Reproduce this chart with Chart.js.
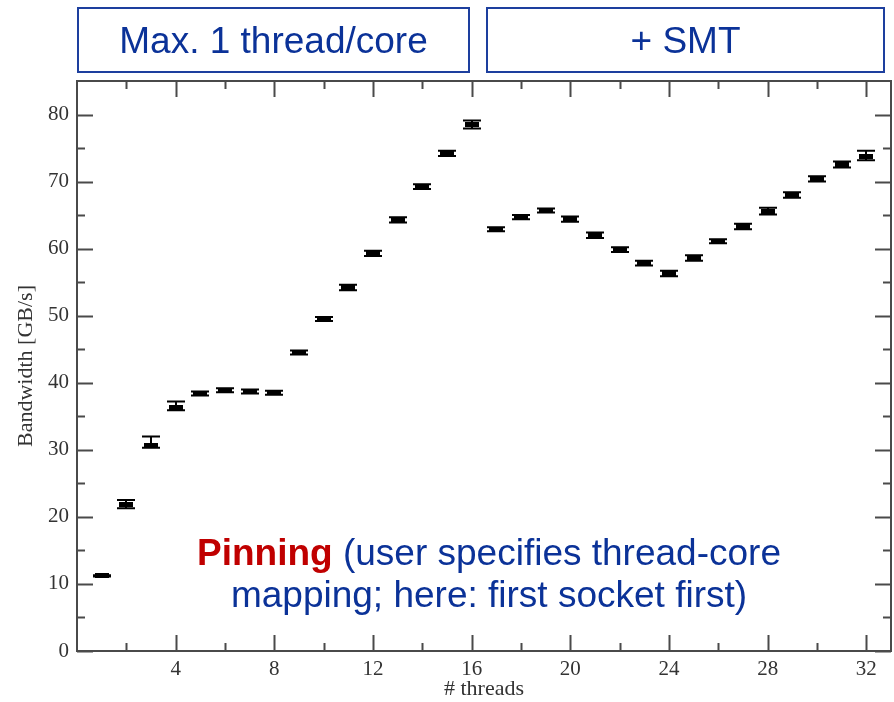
<!DOCTYPE html>
<html>
<head>
<meta charset="utf-8">
<title>Bandwidth vs threads</title>
<style>
  html, body { margin: 0; padding: 0; background: #ffffff; }
  #wrap { width: 894px; height: 702px; position: relative; }
</style>
<script src="https://cdn.jsdelivr.net/npm/chart.js@4.4.1/dist/chart.umd.min.js"></script>
</head>
<body>
<div id="wrap"><canvas id="c" width="894" height="702"></canvas></div>
<script>
// Measured bandwidth per thread count, with the min/max of the repeated runs
const threads = [1, 2, 3, 4, 5, 6, 7, 8, 9, 10, 11, 12, 13, 14, 15, 16,
                 17, 18, 19, 20, 21, 22, 23, 24, 25, 26, 27, 28, 29, 30, 31, 32];
const bandwidth = [11.2, 21.8, 30.7, 36.3, 38.4, 38.9, 38.7, 38.5, 44.5, 49.5, 54.2, 59.3, 64.3, 69.2, 74.2, 78.5,
                   62.9, 64.7, 65.7, 64.4, 62.0, 59.8, 57.8, 56.3, 58.6, 61.1, 63.3, 65.6, 68.0, 70.4, 72.6, 73.8];
const bandwidthLow = [11.1, 21.3, 30.3, 35.9, 38.1, 38.6, 38.4, 38.2, 44.2, 49.2, 53.8, 58.9, 63.9, 68.9, 73.8, 77.9,
                      62.6, 64.4, 65.4, 64.0, 61.6, 59.5, 57.5, 55.9, 58.2, 60.8, 62.9, 65.1, 67.6, 70.0, 72.1, 73.2];
const bandwidthHigh = [11.3, 22.5, 32.0, 37.2, 38.7, 39.2, 39.0, 38.8, 44.8, 49.8, 54.6, 59.7, 64.7, 69.6, 74.6, 79.1,
                       63.2, 65.0, 66.0, 64.8, 62.4, 60.2, 58.2, 56.7, 59.0, 61.4, 63.7, 66.1, 68.4, 70.8, 73.0, 74.6];

const xTickValues = [2, 4, 6, 8, 10, 12, 14, 16, 18, 20, 22, 24, 26, 28, 30, 32];
const yTickValues = [0, 5, 10, 15, 20, 25, 30, 35, 40, 45, 50, 55, 60, 65, 70, 75, 80];

const panelLabels = ['Max. 1 thread/core', '+ SMT'];
const noteStrong = 'Pinning';
const noteRest = ' (user specifies thread-core';
const noteSecond = 'mapping; here: first socket first)';

const AXIS_COLOR = '#4a4a4a';
const BLUE_TEXT = '#0b3298';
const BLUE_BORDER = '#1d3f9e';
const RED_TEXT = '#c00000';

// small filled bar used as the point marker
const marker = document.createElement('canvas');
marker.width = 14; marker.height = 5;
(function () {
  const m = marker.getContext('2d');
  m.fillStyle = '#000';
  m.fillRect(0, 0, 14, 5);
})();

// frame around the plot with inward tick marks on all four sides
const frameTicks = {
  id: 'frameTicks',
  beforeDatasetsDraw(chart) {
    const { ctx, chartArea: a, scales: { x, y } } = chart;
    ctx.save();
    ctx.strokeStyle = AXIS_COLOR;
    ctx.lineWidth = 2;
    ctx.strokeRect(a.left, a.top, a.right - a.left, a.bottom - a.top);
    ctx.beginPath();
    x.ticks.forEach(t => {
      const px = Math.round(x.getPixelForValue(t.value)) + 0.5;
      const len = t.value % 4 === 0 ? 16 : 8;
      ctx.moveTo(px, a.bottom); ctx.lineTo(px, a.bottom - len);
      ctx.moveTo(px, a.top); ctx.lineTo(px, a.top + len);
    });
    y.ticks.forEach(t => {
      const py = Math.round(y.getPixelForValue(t.value)) + 0.5;
      const len = t.value % 10 === 0 ? 16 : 8;
      ctx.moveTo(a.left, py); ctx.lineTo(a.left + len, py);
      ctx.moveTo(a.right, py); ctx.lineTo(a.right - len, py);
    });
    ctx.stroke();
    ctx.restore();
  }
};

// min/max whiskers with caps for every measurement
const errorBars = {
  id: 'errorBars',
  beforeDatasetsDraw(chart) {
    const { ctx, scales: { x, y } } = chart;
    ctx.save();
    ctx.strokeStyle = '#000';
    ctx.lineWidth = 2;
    ctx.beginPath();
    threads.forEach((t, i) => {
      const px = Math.round(x.getPixelForValue(t));
      const lo = y.getPixelForValue(bandwidthLow[i]);
      const hi = y.getPixelForValue(bandwidthHigh[i]);
      ctx.moveTo(px, lo); ctx.lineTo(px, hi);
      ctx.moveTo(px - 9, lo); ctx.lineTo(px + 9, lo);
      ctx.moveTo(px - 9, hi); ctx.lineTo(px + 9, hi);
    });
    ctx.stroke();
    ctx.restore();
  }
};

// header panels and the pinning note
const annotations = {
  id: 'annotations',
  afterDraw(chart) {
    const ctx = chart.ctx;
    ctx.save();
    const boxes = [[78, 8, 391, 64], [487, 8, 397, 64]];
    ctx.lineWidth = 2;
    ctx.strokeStyle = BLUE_BORDER;
    ctx.fillStyle = BLUE_TEXT;
    ctx.font = '37px "Liberation Sans", Arial, sans-serif';
    ctx.textBaseline = 'alphabetic';
    ctx.textAlign = 'center';
    boxes.forEach((b, i) => {
      ctx.strokeRect(b[0], b[1], b[2], b[3]);
      ctx.fillText(panelLabels[i], b[0] + b[2] / 2, 53);
    });

    const cx = 489;
    const boldFont = 'bold 37px "Liberation Sans", Arial, sans-serif';
    const normFont = '37px "Liberation Sans", Arial, sans-serif';
    ctx.textAlign = 'left';
    ctx.font = boldFont;
    const w1 = ctx.measureText(noteStrong).width;
    ctx.font = normFont;
    const w2 = ctx.measureText(noteRest).width;
    const start = cx - (w1 + w2) / 2;
    ctx.font = boldFont;
    ctx.fillStyle = RED_TEXT;
    ctx.fillText(noteStrong, start, 565);
    ctx.font = normFont;
    ctx.fillStyle = BLUE_TEXT;
    ctx.fillText(noteRest, start + w1, 565);
    ctx.textAlign = 'center';
    ctx.fillText(noteSecond, cx, 607);
    ctx.restore();
  }
};

const serif = '"Liberation Serif", "Times New Roman", serif';

new Chart(document.getElementById('c'), {
  type: 'scatter',
  data: {
    datasets: [{
      data: threads.map((t, i) => ({ x: t, y: bandwidth[i] })),
      pointStyle: marker,
      pointRadius: 7,
      pointHoverRadius: 7,
      showLine: false
    }]
  },
  options: {
    responsive: false,
    animation: false,
    devicePixelRatio: 1,
    layout: { autoPadding: false, padding: { top: 81, right: 3, left: 0, bottom: 0 } },
    plugins: { legend: { display: false }, tooltip: { enabled: false } },
    scales: {
      x: {
        type: 'linear',
        min: 0,
        max: 33,
        afterBuildTicks(scale) { scale.ticks = xTickValues.map(v => ({ value: v })); },
        afterFit(scale) {
          scale.height = 51;
          scale.paddingLeft = 0;
          scale.paddingRight = 0;
        },
        grid: { display: false, drawTicks: false },
        border: { display: false },
        ticks: {
          autoSkip: false,
          maxRotation: 0,
          padding: 6,
          color: '#333333',
          font: { family: serif, size: 21 },
          callback: v => (v % 4 === 0 ? String(v) : '')
        },
        title: {
          display: true,
          text: '# threads',
          color: '#333333',
          font: { family: serif, size: 22 },
          padding: { top: 0, bottom: 0 }
        }
      },
      y: {
        type: 'linear',
        min: 0,
        max: 85,
        afterBuildTicks(scale) { scale.ticks = yTickValues.map(v => ({ value: v })); },
        afterFit(scale) {
          scale.width = 77;
          scale.paddingTop = 0;
          scale.paddingBottom = 0;
        },
        grid: { display: false, drawTicks: false },
        border: { display: false },
        ticks: {
          autoSkip: false,
          padding: 8,
          color: '#333333',
          font: { family: serif, size: 21 },
          callback: v => (v % 10 === 0 ? String(v) : '')
        },
        title: {
          display: true,
          text: 'Bandwidth [GB/s]',
          color: '#333333',
          font: { family: serif, size: 22 },
          padding: { top: 13, bottom: 0 }
        }
      }
    }
  },
  plugins: [frameTicks, errorBars, annotations]
});
</script>
</body>
</html>
